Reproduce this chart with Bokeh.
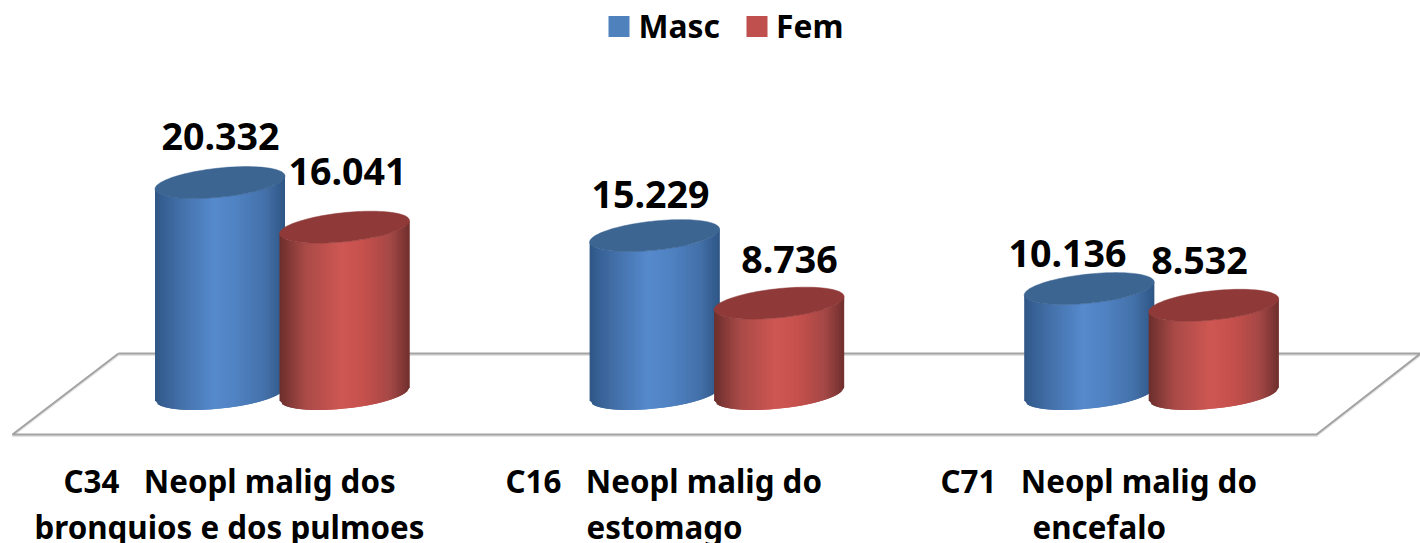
import numpy as np
from bokeh.plotting import figure
from bokeh.core.properties import value
from bokeh.embed import file_html
from bokeh.resources import INLINE

# ---- data
categories_line1 = ["C34\u00a0\u00a0\u00a0Neopl malig dos", "C16\u00a0\u00a0\u00a0Neopl malig do", "C71\u00a0\u00a0\u00a0Neopl malig do"]
categories_line2 = ["bronquios e dos pulmoes", "estomago", "encefalo"]
masc = [20.332, 15.229, 10.136]
fem = [16.041, 8.736, 8.532]
masc_labels = ["20.332", "15.229", "10.136"]
fem_labels = ["16.041", "8.736", "8.532"]
legend_names = ["Masc", "Fem"]

# ---- layout (pixels of the 1420x543 picture)
W, H = 1420, 543
X0, STEP = 281.75, 434.6      # first group's centre, spacing of groups
BASE, PPU = 393.5, 10.4       # pixel of value 0, pixels per value unit
BAR_W, BAR_OFF = 130.0, 62.25
A, B, K = BAR_W / 2, 14.6, -6.5
FONT = value("Noto Sans")

def dx(px):
    return (px - X0) / STEP

def dy(py):
    return (BASE - py) / PPU

p = figure(width=W, height=H, output_backend="svg", toolbar_location=None,
           x_range=(dx(0), dx(W)), y_range=(dy(H), dy(0)),
           x_axis_type="linear", min_border=0)
p.axis.visible = False
p.grid.visible = False
p.outline_line_color = None
p.background_fill_color = "white"

# floor
floor_x = [118, 1420, 1316, 12, 118]
floor_y = [353, 353, 434, 434, 353]
p.line([dx(v) for v in floor_x], [dy(v + 1.5) for v in floor_y], line_color="#e2e2e2", line_width=2)
p.line([dx(v) for v in floor_x], [dy(v) for v in floor_y], line_color="#a3a3a3", line_width=2)

BLUE = [(0, "#2f5685"), (.08, "#386297"), (.2, "#4370a8"), (.45, "#558acd"), (.62, "#5082c2"),
        (.85, "#4370a8"), (1, "#2f5685")]
RED = [(0, "#6b2d2c"), (.08, "#843a38"), (.2, "#a94a47"), (.48, "#cf5753"), (.65, "#c5504c"),
       (.85, "#a54846"), (1, "#6e2f2d")]

def hex2rgb(h):
    return np.array([int(h[i:i + 2], 16) for i in (1, 3, 5)], float)

def shade(stops, f):
    pos = [s[0] for s in stops]
    cols = np.array([hex2rgb(s[1]) for s in stops])
    rgb = [int(round(np.interp(f, pos, cols[:, c]))) for c in range(3)]
    return "#%02x%02x%02x" % tuple(rgb)

def cylinder(cx, val, stops, cap):
    top = BASE - val * PPU
    n = 52
    u = np.linspace(-1, 1, n + 1)
    lower = B * np.sqrt(1 - u ** 2) + K * u
    xs, ys, cs = [], [], []
    for i in range(n):
        j = min(i + 2, n)          # each strip runs under the next one, so no seams show
        xa, xb = cx + A * u[i], cx + A * u[j]
        xs.append([dx(xa), dx(xb), dx(xb), dx(xa)])
        ys.append([dy(top + lower[i]), dy(top + lower[j]),
                   dy(BASE + lower[j]), dy(BASE + lower[i])])
        cs.append(shade(stops, (i + .5) / n))
    p.patches(xs, ys, fill_color=cs, line_color=None)
    t = np.linspace(0, 2 * np.pi, 121)
    ex = cx + A * np.cos(t)
    ey = top + B * np.sin(t) + K * np.cos(t)
    p.patch(dx(ex), dy(ey), fill_color=cap, line_color=cap, line_width=0.5)

for i in range(3):
    c = X0 + i * STEP
    cylinder(c - BAR_OFF, masc[i], BLUE, "#3d6592")
    cylinder(c + BAR_OFF, fem[i], RED, "#8f3a38")

# data labels: placed by hand in the original
masc_label_x = [220, 650, 1067]
masc_label_y = [136, 194, 253]
fem_label_x = [347, 789, 1199]
fem_label_y = [171, 259, 260]
p.text(dx(np.array(masc_label_x + fem_label_x)), dy(np.array(masc_label_y + fem_label_y)),
       text=masc_labels + fem_labels, text_font=FONT, text_font_style="bold",
       text_font_size="37.6px", text_color="#000000", text_align="center", text_baseline="middle")

# category labels
cat_x1 = [63, 505, 940]
cat_x2 = [34, 586, 1032]
p.text(dx(np.array(cat_x1)), dy(np.full(3, 480.5)), text=categories_line1, text_font=FONT,
       text_font_style="bold", text_font_size="31.3px", text_color="#000000",
       text_align="left", text_baseline="middle")
p.text(dx(np.array(cat_x2)), dy(np.full(3, 526.0)), text=categories_line2, text_font=FONT,
       text_font_style="bold", text_font_size="31.3px", text_color="#000000",
       text_align="left", text_baseline="middle")

# legend
p.scatter(dx(np.array([618.5, 756.5])), dy(np.array([26.0, 26.0])), marker="square", size=21,
          fill_color=["#4f81bd", "#c0504d"], line_color=None)
p.text(dx(np.array([638, 775.5])), dy(np.array([24.5, 24.5])), text=legend_names, text_font=FONT,
       text_font_style="bold", text_font_size="31.8px", text_color="#000000",
       text_align="left", text_baseline="middle")

open("out.html", "w").write(file_html(p, INLINE))
